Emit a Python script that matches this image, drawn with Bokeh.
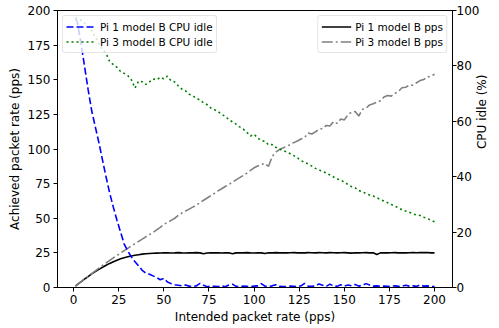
import math
from bokeh.plotting import figure
from bokeh.models import (Range1d, LinearAxis, FixedTicker, Legend, LegendItem,
                          ColumnDataSource)
from bokeh.embed import file_html
from bokeh.resources import INLINE

# ---- data ----
rate = [1, 2, 4, 6, 8, 10, 12, 14, 16, 18, 20, 22, 24, 26, 28, 30, 32, 34, 36, 38,
        40, 42, 44, 46, 48, 50, 52, 54, 56, 58, 60, 62, 64, 66, 68, 70, 72, 74, 76, 78,
        80, 82, 84, 86, 88, 90, 92, 94, 96, 98, 100, 102, 104, 106, 108, 110, 112, 114,
        116, 118, 120, 122, 124, 126, 128, 130, 132, 134, 136, 138, 140, 142, 144, 146,
        148, 150, 152, 154, 156, 158, 160, 162, 164, 166, 168, 170, 172, 174, 176, 178,
        180, 182, 184, 186, 188, 190, 192, 194, 196, 198, 200]

pi1_pps = [1.0, 2.0, 4.0, 6.0, 7.9, 9.8, 11.5, 13.1, 14.6, 16.1, 17.4, 18.6, 19.7, 20.7,
           21.5, 22.2, 22.8, 23.3, 23.7, 24.1, 24.4, 24.6, 24.7, 24.8, 24.9, 25.0, 25.1,
           24.9, 25.0, 25.2, 25.0, 24.9, 25.1, 25.0, 25.2, 25.0, 24.3, 24.9, 25.1, 25.0,
           25.1, 24.9, 25.0, 25.1, 24.3, 25.0, 25.1, 25.0, 25.2, 25.0, 24.9, 25.1, 25.0,
           24.5, 25.1, 25.0, 25.2, 25.0, 25.1, 25.0, 25.1, 25.2, 25.0, 25.1, 25.0, 25.2,
           25.1, 25.0, 25.2, 25.1, 25.0, 25.2, 25.1, 25.0, 25.1, 25.2, 25.0, 24.8, 25.1,
           25.0, 25.1, 25.2, 25.0, 25.1, 23.9, 25.0, 25.1, 25.0, 25.1, 25.2, 25.0, 25.1,
           25.0, 25.1, 25.2, 25.1, 25.3, 25.2, 25.3, 25.0, 25.0]

pi3_pps = [1.0, 2.0, 4.0, 6.0, 8.0, 10.0, 12.0, 14.0, 15.9, 17.8, 19.6, 21.4, 23.1, 24.9,
           26.6, 28.3, 30.0, 31.6, 33.3, 34.9, 36.6, 38.2, 39.8, 41.6, 43.4, 45.6, 47.0,
           48.5, 50.0, 52.0, 53.8, 55.2, 56.6, 58.0, 59.5, 61.2, 63.0, 64.6, 66.3, 68.0,
           69.8, 71.3, 72.9, 74.4, 76.0, 77.7, 79.3, 80.9, 82.6, 84.5, 86.4, 87.7, 88.8,
           89.6, 87.5, 94.5, 97.8, 99.6, 100.8, 101.9, 103.2, 104.6, 105.8, 107.2, 108.4,
           111.6, 110.8, 112.4, 114.2, 114.8, 117.0, 116.6, 119.8, 118.5, 121.6, 121.0,
           124.8, 126.5, 127.0, 123.8, 128.6, 129.4, 131.8, 132.6, 133.8, 134.8, 137.6,
           138.6, 138.2, 140.1, 141.6, 144.2, 144.6, 146.2, 146.0, 147.8, 149.4, 150.2,
           152.0, 152.6, 154.0]

pi1_idle = [97.0, 96.0, 88.5, 80.0, 71.5, 63.8, 58.0, 52.3, 46.0, 39.8, 34.0, 29.0, 24.3,
            20.0, 15.7, 13.2, 11.0, 9.3, 7.8, 6.2, 5.2, 4.8, 4.2, 3.6, 2.8, 3.3, 2.0, 1.4,
            1.0, 0.8, 0.6, 0.9, 0.5, 0.4, 0.6, 1.5, 0.8, 0.3, 0.5, 0.4, 0.3, 0.6, 0.3, 0.9,
            1.2, 0.4, 0.3, 0.5, 0.4, 0.3, 0.5, 0.6, 1.4, 0.5, 0.4, 0.6, 1.0, 0.4, 0.3, 0.4,
            0.5, 0.4, 0.3, 0.6, 1.5, 0.5, 0.4, 0.6, 1.3, 0.8, 0.4, 1.2, 0.6, 0.4, 1.0, 0.5,
            0.9, 0.6, 1.1, 0.5, 0.8, 1.4, 0.9, 0.5, 0.6, 0.4, 0.5, 0.4, 0.3, 0.6, 0.4, 0.5,
            0.8, 0.5, 0.6, 0.4, 0.9, 0.5, 0.6, 0.4, 0.3]

pi3_idle = [97.5, 97.2, 96.5, 95.5, 94.2, 92.8, 90.5, 88.0, 86.0, 84.5, 81.5, 80.5, 79.5,
            78.0, 77.3, 76.5, 75.0, 72.0, 74.5, 74.3, 73.3, 74.2, 75.3, 75.0, 75.9, 75.3,
            76.3, 74.6, 74.2, 72.8, 71.6, 71.0, 69.8, 69.2, 68.3, 67.7, 66.6, 66.0, 64.8,
            64.2, 63.5, 62.5, 61.8, 60.6, 59.8, 59.0, 58.0, 57.2, 56.0, 54.7, 55.3, 54.0,
            53.0, 52.8, 51.5, 51.6, 50.6, 50.0, 49.4, 49.0, 48.3, 47.6, 46.8, 45.8, 45.2,
            44.6, 43.8, 43.0, 42.4, 41.9, 41.4, 40.6, 39.9, 39.2, 38.8, 38.0, 37.2, 36.4,
            36.0, 35.0, 34.6, 33.9, 33.4, 33.0, 32.4, 31.8, 31.2, 30.6, 30.0, 29.3, 28.8,
            28.0, 27.6, 27.2, 26.6, 26.2, 26.0, 25.4, 24.9, 24.3, 23.7]

x_ticks = [0, 25, 50, 75, 100, 125, 150, 175, 200]
pps_ticks = [0, 25, 50, 75, 100, 125, 150, 175, 200]
idle_ticks = [0, 20, 40, 60, 80, 100]

FONT = "DejaVu Sans"

src = ColumnDataSource(dict(x=rate, p1=pi1_pps, p3=pi3_pps, i1=pi1_idle, i3=pi3_idle))

p = figure(width=499, height=328, output_backend="svg", toolbar_location=None,
           x_range=Range1d(-8.95, 209.95), y_range=Range1d(0, 200),
           min_border_left=57, min_border_right=46, min_border_top=10, min_border_bottom=41)
p.extra_y_ranges = {"cpu": Range1d(0, 100)}
p.xgrid.visible = False
p.ygrid.visible = False
p.outline_line_color = "black"
p.outline_line_width = 1
p.outline_line_alpha = 1
p.background_fill_color = "white"
p.border_fill_color = "white"

LW = 1.6
r_p1 = p.line("x", "p1", source=src, color="black", line_width=LW)
r_p3 = p.line("x", "p3", source=src, color="gray", line_width=LW, line_dash="11 3 2 3")
r_i1 = p.line("x", "i1", source=src, color="blue", line_width=LW, line_dash="7 3",
              y_range_name="cpu")
r_i3 = p.line("x", "i3", source=src, color="green", line_width=LW, line_dash="2 3",
              y_range_name="cpu")

right_axis = LinearAxis(y_range_name="cpu")
p.add_layout(right_axis, "right")

p.xaxis.ticker = FixedTicker(ticks=x_ticks)
p.yaxis[0].ticker = FixedTicker(ticks=pps_ticks)
right_axis.ticker = FixedTicker(ticks=idle_ticks)

p.xaxis.axis_label = "Intended packet rate (pps)"
p.yaxis[0].axis_label = "Achieved packet rate (pps)"
right_axis.axis_label = "CPU idle (%)"

for ax in [p.xaxis[0], p.yaxis[0], right_axis]:
    ax.axis_line_color = "black"
    ax.axis_line_width = 1
    ax.major_tick_line_color = "black"
    ax.major_tick_line_width = 1
    ax.major_tick_out = 4
    ax.major_tick_in = 0
    ax.minor_tick_line_color = None
    ax.major_label_text_font = FONT
    ax.major_label_text_font_size = "12px"
    ax.major_label_text_color = "black"
    ax.major_label_standoff = 3
    ax.axis_label_text_font = FONT
    ax.axis_label_text_font_size = "12px"
    ax.axis_label_text_font_style = "normal"
    ax.axis_label_text_color = "black"
    ax.axis_label_standoff = 3

right_axis.major_label_standoff = 0
right_axis.axis_label_standoff = 0
right_axis.axis_label_orientation = math.pi / 2


def make_legend(items, loc):
    lg = Legend(items=items, location=loc)
    lg.label_text_font = FONT
    lg.label_text_font_size = "10.5px"
    lg.label_text_color = "black"
    lg.glyph_width = 30
    lg.glyph_height = 15
    lg.label_height = 15
    lg.label_standoff = 4
    lg.spacing = 0
    lg.padding = 3
    lg.margin = 5
    lg.border_line_color = "#cccccc"
    lg.border_line_width = 1
    lg.background_fill_color = "white"
    lg.background_fill_alpha = 0.8
    if "border_radius" in Legend.properties():
        lg.border_radius = 3
    return lg


leg_left = make_legend([LegendItem(label="Pi 1 model B CPU idle", renderers=[r_i1]),
                        LegendItem(label="Pi 3 model B CPU idle", renderers=[r_i3])],
                       "top_left")
leg_right = make_legend([LegendItem(label="Pi 1 model B pps", renderers=[r_p1]),
                         LegendItem(label="Pi 3 model B pps", renderers=[r_p3])],
                        "top_right")
p.add_layout(leg_left, "center")
p.add_layout(leg_right, "center")

open("out.html", "w").write(file_html(p, INLINE))
